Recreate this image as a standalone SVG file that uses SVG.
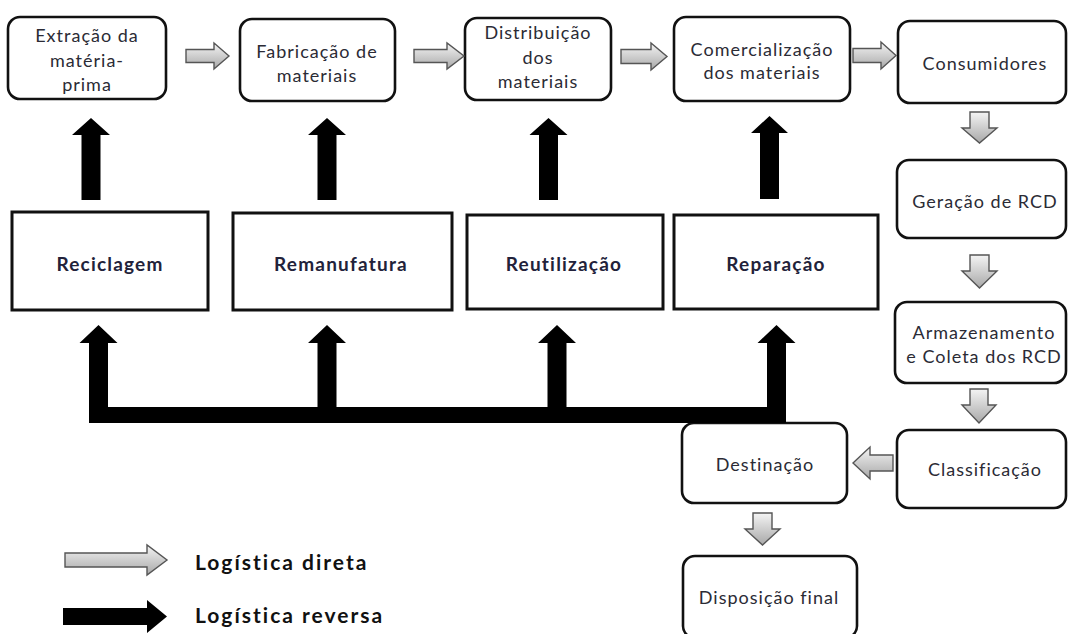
<svg xmlns="http://www.w3.org/2000/svg" width="1068" height="634" viewBox="0 0 1068 634">
<defs>
<linearGradient id="gg" x1="0" y1="0" x2="0" y2="1">
<stop offset="0" stop-color="#f4f4f4"/>
<stop offset="1" stop-color="#a8a8a8"/>
</linearGradient>
<style>
.rb{fill:#fff;stroke:#111;stroke-width:2.6}
.sq{fill:#fff;stroke:#111;stroke-width:3}
.ga{fill:url(#gg);stroke:#555;stroke-width:1.4;stroke-linejoin:miter}
.ba{fill:#000}
.t{font-family:Lato,"Liberation Sans",sans-serif;font-size:18px;letter-spacing:1px;fill:#2b2b35;text-anchor:middle}
.tb{font-family:Lato,"Liberation Sans",sans-serif;font-size:19px;letter-spacing:1.2px;font-weight:bold;fill:#22223a;text-anchor:middle}
.lg{font-family:Lato,"Liberation Sans",sans-serif;font-size:21px;letter-spacing:2px;font-weight:bold;fill:#111}
</style>
</defs>
<rect width="1068" height="634" fill="#fff"/>

<g id="n-extracao"><rect class="rb" x="8" y="17" width="158" height="82" rx="12"/>
<text class="t" x="87" y="42">Extração da</text><text class="t" x="87" y="67">matéria-</text><text class="t" x="87" y="91">prima</text></g>
<g id="n-fabricacao"><rect class="rb" x="240" y="19" width="155" height="82" rx="12"/>
<text class="t" x="317" y="58">Fabricação de</text><text class="t" x="317" y="82">materiais</text></g>
<g id="n-distribuicao"><rect class="rb" x="465" y="18" width="146" height="82" rx="12"/>
<text class="t" x="538" y="39">Distribuição</text><text class="t" x="538" y="64">dos</text><text class="t" x="538" y="88">materiais</text></g>
<g id="n-comercializacao"><rect class="rb" x="674" y="17" width="176" height="84" rx="12"/>
<text class="t" x="762" y="56">Comercialização</text><text class="t" x="762" y="79">dos materiais</text></g>
<g id="n-consumidores"><rect class="rb" x="898" y="21" width="168" height="82" rx="12"/>
<text class="t" x="985" y="70">Consumidores</text></g>
<g id="n-geracao"><rect class="rb" x="897" y="160" width="169" height="78" rx="12"/>
<text class="t" x="985" y="208">Geração de RCD</text></g>
<g id="n-armazenamento"><rect class="rb" x="895" y="302" width="171" height="81" rx="12"/>
<text class="t" x="984" y="339">Armazenamento</text><text class="t" x="984" y="363">e Coleta dos RCD</text></g>
<g id="n-classificacao"><rect class="rb" x="897" y="430" width="169" height="78" rx="12"/>
<text class="t" x="985" y="476">Classificação</text></g>
<g id="n-destinacao"><rect class="rb" x="682" y="423" width="165" height="80" rx="12"/>
<text class="t" x="765" y="471">Destinação</text></g>
<g id="n-disposicao"><rect class="rb" x="683" y="556" width="174" height="82" rx="12"/>
<text class="t" x="769" y="604">Disposição final</text></g>

<g id="n-reciclagem"><rect class="sq" x="12" y="212" width="196" height="98"/>
<text class="tb" x="110" y="271">Reciclagem</text></g>
<g id="n-remanufatura"><rect class="sq" x="233" y="213" width="219" height="97"/>
<text class="tb" x="341" y="271">Remanufatura</text></g>
<g id="n-reutilizacao"><rect class="sq" x="467" y="215" width="196" height="94"/>
<text class="tb" x="564" y="271">Reutilização</text></g>
<g id="n-reparacao"><rect class="sq" x="674" y="215" width="204" height="94"/>
<text class="tb" x="776" y="271">Reparação</text></g>

<g id="connectors">
<path class="ga" d="M186,49.5H214V43L229,56L214,69V62.5H186Z"/>
<path class="ga" d="M414,49.5H447V43L464,56L447,69V62.5H414Z"/>
<path class="ga" d="M621,49.5H651V43L667,56.5L651,70V63.5H621Z"/>
<path class="ga" d="M853,48.5H881V42L896,55.5L881,69V62.5H853Z"/>
<path class="ga" d="M970,112H989V128H997L979.5,143L962,128H970Z"/>
<path class="ga" d="M970,255H989V271H997L979.5,288L962,271H970Z"/>
<path class="ga" d="M970,389H988V405H996L979,423L962,405H970Z"/>
<path class="ga" d="M893,455H870V447L853,463L870,479V471H893Z"/>
<path class="ga" d="M753,513H772V529H780L762.5,545L745,529H753Z"/>

<path class="ba" d="M81.5,200V135H72L91,118L110,135H100.5V200Z"/>
<path class="ba" d="M317.5,200V135H308L327,118L346,135H336.5V200Z"/>
<path class="ba" d="M539,200V135H529.5L548.5,118L567.5,135H558V200Z"/>
<path class="ba" d="M760,199V133H751L769.5,116L788,133H779V199Z"/>

<path class="ba" d="M89,423H786V343H795.5L776.5,325L757.5,343H767V407H566.5V343H576L557,325L538,343H547.5V407H336.5V343H346L327,325L308,343H317.5V407H108V343H117.5L98.5,325L79.5,343H89Z"/>
</g>

<g id="legend">
<path class="ga" d="M65,553H147V545L167,560L147,575V567H65Z"/>
<text class="lg" x="195" y="570">Logística direta</text>
<path class="ba" d="M63,608H147V600L167,616.5L147,633V625H63Z"/>
<text class="lg" x="195" y="623">Logística reversa</text>
</g>
</svg>
